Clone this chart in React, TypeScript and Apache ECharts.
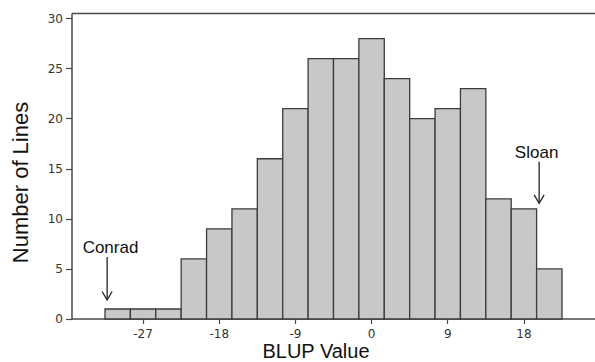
import React, { useEffect, useRef } from "react";
import * as echarts from "echarts";

// Histogram bin centres (width 3) and counts
const binCenters = [-30, -27, -24, -21, -18, -15, -12, -9, -6, -3, 0, 3, 6, 9, 12, 15, 18, 21];
const counts = [1, 1, 1, 6, 9, 11, 16, 21, 26, 26, 28, 24, 20, 21, 23, 12, 11, 5];
const binWidth = 3;
const xTicks = [-27, -18, -9, 0, 9, 18];
const yTicks = [0, 5, 10, 15, 20, 25, 30];
// Annotations: label, arrow x, arrow tip y, arrow tail y, label x
const annLabels = ["Conrad", "Sloan"];
const annX = [-31.25, 19.8];
const annTip = [1.9, 11.55];
const annTail = [6.2, 15.7];
const annTextX = [-30.85, 19.5];

export default function App() {
  const ref = useRef<HTMLDivElement>(null);
  useEffect(() => {
    if (!ref.current) return;
    const chart = echarts.init(ref.current, undefined, { renderer: "svg" });
    const axisColor = "#4a4a4a";
    const labelFont = { color: "#333", fontFamily: "DejaVu Sans", fontSize: 12 };
    chart.setOption({
      animation: false,
      backgroundColor: "#ffffff",
      grid: { left: 72, right: 0, top: 14, bottom: 43, containLabel: false, outerBoundsMode: "none" },
      xAxis: {
        type: "value",
        min: -35.4,
        max: 26.4,
        name: "BLUP Value",
        nameLocation: "middle",
        nameGap: 22,
        nameMoveOverlap: false,
        nameTextStyle: { fontFamily: "Liberation Sans", fontSize: 20, color: "#111", padding: [0, 35, 0, 0] },
        axisLine: { show: true, onZero: false, lineStyle: { color: axisColor, width: 1.5 } },
        axisTick: { show: true, length: 5, customValues: xTicks, lineStyle: { color: axisColor, width: 1.2 } },
        axisLabel: { ...labelFont, margin: 9, customValues: xTicks },
        splitLine: { show: false },
      },
      yAxis: {
        type: "value",
        min: 0,
        max: 30.45,
        name: "Number of Lines",
        nameLocation: "middle",
        nameGap: 41,
        nameTextStyle: { fontFamily: "Liberation Sans", fontSize: 22, color: "#111", padding: [0, 32, 0, 0] },
        axisLine: { show: true, onZero: false, lineStyle: { color: axisColor, width: 1.5 } },
        axisTick: { show: true, length: 6, customValues: yTicks, lineStyle: { color: axisColor, width: 1.2 } },
        axisLabel: { ...labelFont, margin: 9, customValues: yTicks },
        splitLine: { show: false },
      },
      graphic: [
        {
          type: "line",
          shape: { x1: 72, y1: 13.5, x2: 595, y2: 13.5 },
          style: { stroke: axisColor, lineWidth: 1.5 },
        },
      ],
      series: [
        {
          type: "custom",
          data: binCenters.map((c, i) => [c, counts[i]]),
          renderItem: (params: any, api: any) => {
            const c = api.value(0);
            const v = api.value(1);
            const p1 = api.coord([c - binWidth / 2, v]);
            const p2 = api.coord([c + binWidth / 2, 0]);
            return {
              type: "rect",
              shape: { x: p1[0], y: p1[1], width: p2[0] - p1[0], height: p2[1] - p1[1] },
              style: { fill: "#c8c8c8", stroke: "#3c3c3c", lineWidth: 1.3 },
            };
          },
          silent: true,
        },
        {
          type: "custom",
          data: annLabels.map((l, i) => [annX[i], annTip[i], annTail[i], annTextX[i], i]),
          renderItem: (params: any, api: any) => {
            const x = api.value(0);
            const tip = api.coord([x, api.value(1)]);
            const tail = api.coord([x, api.value(2)]);
            const tx = api.coord([api.value(3), api.value(2)]);
            const label = annLabels[api.value(4)];
            return {
              type: "group",
              children: [
                {
                  type: "line",
                  shape: { x1: tail[0], y1: tail[1], x2: tip[0], y2: tip[1] },
                  style: { stroke: "#222", lineWidth: 1.3 },
                },
                {
                  type: "polyline",
                  shape: { points: [[tip[0] - 5, tip[1] - 8.5], [tip[0], tip[1]], [tip[0] + 5, tip[1] - 8.5]] },
                  style: { stroke: "#222", lineWidth: 1.3, fill: "none" },
                },
                {
                  type: "text",
                  x: tx[0],
                  y: tail[1] - 0.5,
                  style: {
                    text: label,
                    fontFamily: "Liberation Sans",
                    fontSize: 17,
                    fill: "#111",
                    align: "center",
                    verticalAlign: "bottom",
                  },
                },
              ],
            };
          },
          silent: true,
          z: 5,
        },
      ],
    });
    return () => chart.dispose();
  }, []);
  return <div ref={ref} style={{ position: "fixed", left: 0, top: 0, width: 595, height: 362 }} />;
}
